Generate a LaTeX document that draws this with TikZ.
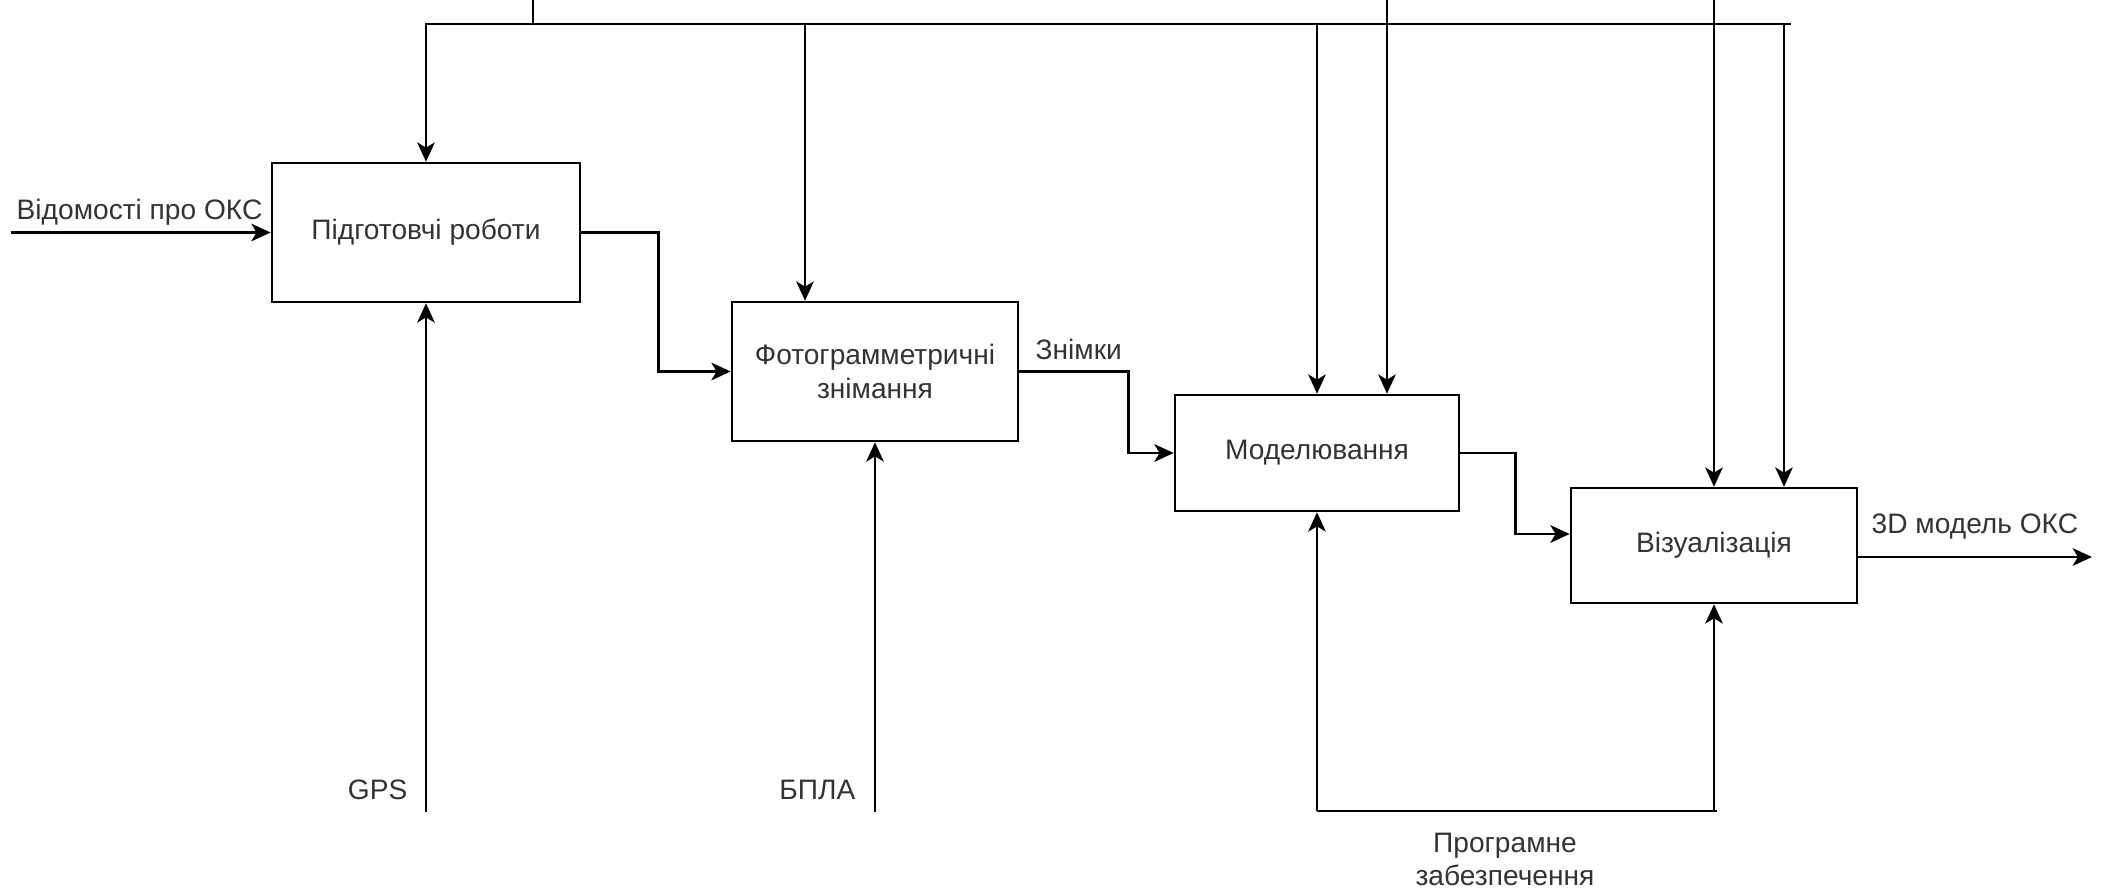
\documentclass[tikz,border=0pt]{standalone}
\usepackage{fontspec}
\setmainfont{Liberation Sans}
\usetikzlibrary{arrows.meta}

\begin{document}
\begin{tikzpicture}[x=0.01cm, y=-0.01cm,
    box/.style={draw, line width=0.7pt, minimum width=2.86cm, minimum height=1.39cm, align=center, inner sep=2pt, text=black!80, font=\fontsize{8}{9.6}\selectfont},
    lbl/.style={inner sep=0pt, align=center, text=black!80, font=\fontsize{8}{9.6}\selectfont},
    flow/.style={line width=0.7pt, -{Stealth[length=5.5pt, width=5pt, inset=1.5pt]}},
    ctl/.style={line width=0.55pt, -{Stealth[length=5.5pt, width=5pt, inset=1.5pt]}},
    wire/.style={line width=0.55pt}]
    \useasboundingbox (0,0) rectangle (2108,891);

    % Activities
    \node[box, minimum width=3.08cm] (prep) at (426,232.5) {Підготовчі роботи};
    \node[box] (photo) at (875,371.5) {Фотограмметричні\\знімання};
    \node[box, minimum width=2.84cm, minimum height=1.16cm] (model) at (1317,453) {Моделювання};
    \node[box, minimum height=1.15cm] (vis) at (1714,545.5) {Візуалізація};

    % Controls from the top
    \coordinate (src) at (533,0);
    \coordinate (bus) at (533,24);
    \coordinate (busend) at (1791,24);
    \coordinate (c2) at (805,24);
    \coordinate (c3a) at (1317,24);
    \coordinate (c3b) at (1387,0);
    \coordinate (c4a) at (1714,0);
    \coordinate (c4b) at (1784,24);
    \draw[wire] (src) -- (bus);
    \draw[ctl] (busend) -| (prep.north);
    \draw[ctl] (c2) -- (c2 |- photo.north);
    \draw[ctl] (c3a) -- (model.north);
    \draw[ctl] (c3b) -- (c3b |- model.north);
    \draw[ctl] (c4a) -- (vis.north);
    \draw[ctl] (c4b) -- (c4b |- vis.north);

    % Inputs and outputs
    \coordinate (in) at (11,232.5);
    \coordinate (out) at (2092,557);
    \draw[flow] (in) -- (prep.west);
    \draw[flow] (prep.east) -- ++(77,0) |- (photo.west);
    \draw[flow] (photo.east) -- ++(109,0) |- (model.west);
    \draw[flow] (model.east) -- ++(55,0) |- ([yshift=0.115cm]vis.west);
    \draw[flow] (vis.east |- out) -- (out);

    % Mechanisms from below
    \coordinate (gps) at (426,812);
    \coordinate (uav) at (875,812);
    \coordinate (soft0) at (1317,811);
    \coordinate (soft1) at (1717,811);
    \draw[ctl] (gps) -- (prep.south);
    \draw[ctl] (uav) -- (photo.south);
    \draw[wire] (soft1) -- (soft0);
    \draw[ctl] (soft0) -- (model.south);
    \draw[ctl] (soft0 -| vis.south) -- (vis.south);

    % Labels
    \node[lbl, anchor=base west] (inlbl) at (16,220) {Відомості про ОКС};
    \node[lbl, anchor=base west] (shots) at (1035,360) {Знімки};
    \node[lbl, anchor=base west] (outlbl) at (1871,533) {3D модель ОКС};
    \node[lbl, anchor=base east] (gpslbl) at (408,799) {GPS};
    \node[lbl, anchor=base east] (uavlbl) at (856,799) {БПЛА};
    \node[lbl, anchor=north] (softlbl) at (1505,832) {Програмне\\забезпечення};
\end{tikzpicture}
\end{document}
